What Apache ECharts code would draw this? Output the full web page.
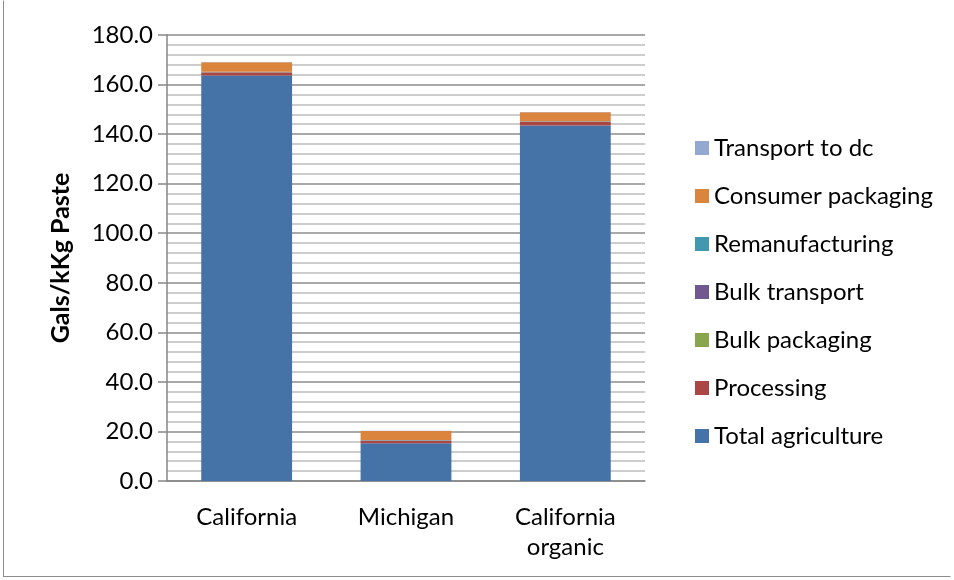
<!DOCTYPE html>
<html>
<head>
<meta charset="utf-8">
<script src="https://cdn.jsdelivr.net/npm/echarts@6/dist/echarts.min.js"></script>
<style>
  html, body { margin: 0; padding: 0; background: #fff; }
  #frame { position: absolute; left: 3px; top: 0; width: 948px; height: 577px; border: 1px solid #8c8c8c; border-top-color: #fff; border-right-color: #fff; box-sizing: border-box; }
  #chart { position: absolute; left: 0; top: 0; width: 954px; height: 580px; }
</style>
</head>
<body>
<div id="frame"></div>
<div id="chart"></div>
<script>
const categories = ['California', 'Michigan', 'California\norganic']
const seriesNames = ['Total agriculture', 'Processing', 'Bulk packaging', 'Bulk transport', 'Remanufacturing', 'Consumer packaging', 'Transport to dc']
const colorList = ['#4572a7', '#aa4643', '#89a54e', '#71588f', '#4198af', '#db843d', '#93a9cf']
const totalAgriculture = [163.7, 15.2, 143.5]
const processing = [1.2, 1.0, 1.4]
const bulkPackaging = [0.1, 0.1, 0.1]
const bulkTransport = [0.1, 0.1, 0.1]
const remanufacturing = [0.1, 0.1, 0.1]
const consumerPackaging = [3.8, 3.7, 3.6]
const transportToDc = [0.1, 0.1, 0.1]
const seriesValues = [totalAgriculture, processing, bulkPackaging, bulkTransport, remanufacturing, consumerPackaging, transportToDc]

const font = 'Lato, "Open Sans", sans-serif'
const chart = echarts.init(document.getElementById('chart'))
chart.setOption({
  animation: false,
  color: colorList,
  grid: { left: 167, right: 309, top: 35, bottom: 99 },
  legend: {
    orient: 'vertical',
    left: 690,
    top: 131,
    itemWidth: 14,
    itemHeight: 14,
    itemGap: 24,
    icon: 'rect',
    data: seriesNames.slice().reverse(),
    textStyle: { fontFamily: font, fontSize: 24, color: '#000', lineHeight: 24 }
  },
  xAxis: {
    type: 'category',
    data: categories,
    axisLine: { lineStyle: { color: '#868686', width: 1.5 } },
    axisTick: { show: false },
    axisLabel: { fontFamily: font, fontSize: 24, color: '#000', margin: 21, lineHeight: 30 }
  },
  yAxis: {
    type: 'value',
    min: 0,
    max: 180,
    interval: 20,
    name: 'Gals/kKg Paste',
    nameLocation: 'middle',
    nameGap: 94,
    nameTextStyle: { fontFamily: font, fontSize: 25, fontWeight: 'bold', color: '#000' },
    axisLine: { show: true, lineStyle: { color: '#868686', width: 1.5 } },
    axisTick: { show: true, inside: false, length: 9, lineStyle: { color: '#868686', width: 1.5 } },
    axisLabel: { fontFamily: font, fontSize: 24, color: '#000', margin: 14, formatter: v => v.toFixed(1) },
    splitLine: { lineStyle: { color: '#8c8c8c', width: 1.5 } },
    minorTick: { show: false, splitNumber: 5 },
    minorSplitLine: { show: true, lineStyle: { color: '#bdbdbd', width: 1.5 } }
  },
  series: seriesNames.map((name, i) => ({
    name,
    type: 'bar',
    stack: 'total',
    barWidth: '57%',
    data: seriesValues[i]
  }))
})
</script>
</body>
</html>
